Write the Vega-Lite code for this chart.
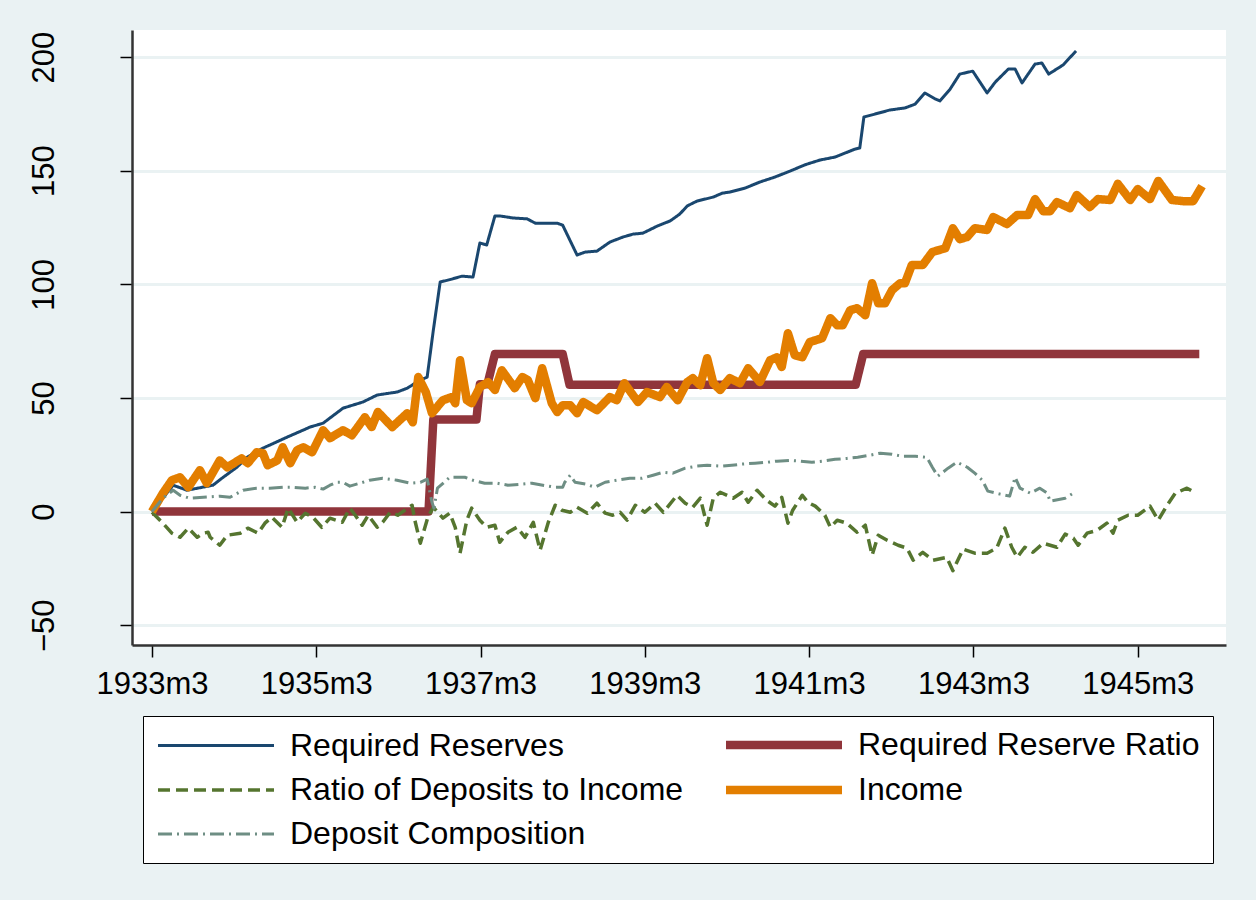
{
  "$schema": "https://vega.github.io/schema/vega-lite/v6.json",
  "width": 1094,
  "height": 615,
  "autosize": {"type": "none"},
  "padding": {"left": 132, "top": 30, "right": 30, "bottom": 255},
  "background": "#eaf2f3",
  "config": {"view": {"fill": "white", "stroke": null}, "font": "Liberation Sans"},
  "data": {"values": [
    {"series": "Required Reserves", "month": 0, "value": 0},
    {"series": "Required Reserves", "month": 3.1, "value": 11.6},
    {"series": "Required Reserves", "month": 5.1, "value": 9.4},
    {"series": "Required Reserves", "month": 8.9, "value": 11.6},
    {"series": "Required Reserves", "month": 10.4, "value": 15.1},
    {"series": "Required Reserves", "month": 12.4, "value": 19.5},
    {"series": "Required Reserves", "month": 13.9, "value": 23.9},
    {"series": "Required Reserves", "month": 16.2, "value": 27.9},
    {"series": "Required Reserves", "month": 19.7, "value": 32.7},
    {"series": "Required Reserves", "month": 23.1, "value": 37.2},
    {"series": "Required Reserves", "month": 25.0, "value": 38.9},
    {"series": "Required Reserves", "month": 27.9, "value": 45.5},
    {"series": "Required Reserves", "month": 30.8, "value": 48.2},
    {"series": "Required Reserves", "month": 32.9, "value": 51.3},
    {"series": "Required Reserves", "month": 35.8, "value": 52.6},
    {"series": "Required Reserves", "month": 37.3, "value": 54.3},
    {"series": "Required Reserves", "month": 38.7, "value": 57.0},
    {"series": "Required Reserves", "month": 40.2, "value": 59.2},
    {"series": "Required Reserves", "month": 41.1, "value": 79.8},
    {"series": "Required Reserves", "month": 42.1, "value": 101.0},
    {"series": "Required Reserves", "month": 43.8, "value": 102.3},
    {"series": "Required Reserves", "month": 45.3, "value": 103.6},
    {"series": "Required Reserves", "month": 46.9, "value": 103.2},
    {"series": "Required Reserves", "month": 47.9, "value": 118.2},
    {"series": "Required Reserves", "month": 48.9, "value": 117.3},
    {"series": "Required Reserves", "month": 50.1, "value": 130.1},
    {"series": "Required Reserves", "month": 50.8, "value": 130.1},
    {"series": "Required Reserves", "month": 52.7, "value": 129.2},
    {"series": "Required Reserves", "month": 54.8, "value": 128.8},
    {"series": "Required Reserves", "month": 56.0, "value": 126.9},
    {"series": "Required Reserves", "month": 57.7, "value": 126.9},
    {"series": "Required Reserves", "month": 59.2, "value": 126.9},
    {"series": "Required Reserves", "month": 60.0, "value": 126.0},
    {"series": "Required Reserves", "month": 62.1, "value": 112.9},
    {"series": "Required Reserves", "month": 63.3, "value": 114.2},
    {"series": "Required Reserves", "month": 65.0, "value": 114.6},
    {"series": "Required Reserves", "month": 66.9, "value": 118.6},
    {"series": "Required Reserves", "month": 68.8, "value": 120.8},
    {"series": "Required Reserves", "month": 70.3, "value": 122.1},
    {"series": "Required Reserves", "month": 71.7, "value": 122.5},
    {"series": "Required Reserves", "month": 73.8, "value": 125.6},
    {"series": "Required Reserves", "month": 75.7, "value": 127.9},
    {"series": "Required Reserves", "month": 77.1, "value": 130.9},
    {"series": "Required Reserves", "month": 78.2, "value": 134.5},
    {"series": "Required Reserves", "month": 79.6, "value": 136.6},
    {"series": "Required Reserves", "month": 82.0, "value": 138.4},
    {"series": "Required Reserves", "month": 83.3, "value": 140.1},
    {"series": "Required Reserves", "month": 84.4, "value": 140.6},
    {"series": "Required Reserves", "month": 86.6, "value": 142.3},
    {"series": "Required Reserves", "month": 88.8, "value": 145.0},
    {"series": "Required Reserves", "month": 91.0, "value": 147.2},
    {"series": "Required Reserves", "month": 93.2, "value": 149.8},
    {"series": "Required Reserves", "month": 95.4, "value": 152.6},
    {"series": "Required Reserves", "month": 97.6, "value": 154.7},
    {"series": "Required Reserves", "month": 99.8, "value": 156.0},
    {"series": "Required Reserves", "month": 102.7, "value": 159.5},
    {"series": "Required Reserves", "month": 103.4, "value": 160.0},
    {"series": "Required Reserves", "month": 104.0, "value": 173.6},
    {"series": "Required Reserves", "month": 105.6, "value": 174.9},
    {"series": "Required Reserves", "month": 107.8, "value": 176.7},
    {"series": "Required Reserves", "month": 110.0, "value": 177.6},
    {"series": "Required Reserves", "month": 111.5, "value": 179.3},
    {"series": "Required Reserves", "month": 112.9, "value": 184.2},
    {"series": "Required Reserves", "month": 114.4, "value": 181.6},
    {"series": "Required Reserves", "month": 115.1, "value": 180.7},
    {"series": "Required Reserves", "month": 116.6, "value": 185.9},
    {"series": "Required Reserves", "month": 118.0, "value": 192.5},
    {"series": "Required Reserves", "month": 119.9, "value": 193.8},
    {"series": "Required Reserves", "month": 122.0, "value": 184.2},
    {"series": "Required Reserves", "month": 123.2, "value": 189.0},
    {"series": "Required Reserves", "month": 125.1, "value": 194.7},
    {"series": "Required Reserves", "month": 126.1, "value": 194.7},
    {"series": "Required Reserves", "month": 127.1, "value": 188.6},
    {"series": "Required Reserves", "month": 129.0, "value": 196.9},
    {"series": "Required Reserves", "month": 130.0, "value": 197.4},
    {"series": "Required Reserves", "month": 131.0, "value": 192.5},
    {"series": "Required Reserves", "month": 133.1, "value": 196.5},
    {"series": "Required Reserves", "month": 135.0, "value": 202.7},

    {"series": "Required Reserve Ratio", "month": 0, "value": 0},
    {"series": "Required Reserve Ratio", "month": 40.4, "value": 0},
    {"series": "Required Reserve Ratio", "month": 41.1, "value": 40.5},
    {"series": "Required Reserve Ratio", "month": 47.4, "value": 40.5},
    {"series": "Required Reserve Ratio", "month": 47.9, "value": 56},
    {"series": "Required Reserve Ratio", "month": 49.0, "value": 56},
    {"series": "Required Reserve Ratio", "month": 50.1, "value": 69.3},
    {"series": "Required Reserve Ratio", "month": 60.0, "value": 69.3},
    {"series": "Required Reserve Ratio", "month": 61.0, "value": 55.8},
    {"series": "Required Reserve Ratio", "month": 102.8, "value": 55.8},
    {"series": "Required Reserve Ratio", "month": 103.9, "value": 69.3},
    {"series": "Required Reserve Ratio", "month": 153.0, "value": 69.3},

    {"series": "Ratio of Deposits to Income", "month": 0, "value": -0.3},
    {"series": "Ratio of Deposits to Income", "month": 1.6, "value": -5.1},
    {"series": "Ratio of Deposits to Income", "month": 2.9, "value": -9.5},
    {"series": "Ratio of Deposits to Income", "month": 4.1, "value": -11.3},
    {"series": "Ratio of Deposits to Income", "month": 5.3, "value": -7.3},
    {"series": "Ratio of Deposits to Income", "month": 6.6, "value": -11.3},
    {"series": "Ratio of Deposits to Income", "month": 7.5, "value": -9.5},
    {"series": "Ratio of Deposits to Income", "month": 8.2, "value": -9.1},
    {"series": "Ratio of Deposits to Income", "month": 8.5, "value": -11.3},
    {"series": "Ratio of Deposits to Income", "month": 9.9, "value": -14.8},
    {"series": "Ratio of Deposits to Income", "month": 11.0, "value": -10.4},
    {"series": "Ratio of Deposits to Income", "month": 12.9, "value": -9.5},
    {"series": "Ratio of Deposits to Income", "month": 14.0, "value": -7.3},
    {"series": "Ratio of Deposits to Income", "month": 15.5, "value": -9.5},
    {"series": "Ratio of Deposits to Income", "month": 16.5, "value": -5.1},
    {"series": "Ratio of Deposits to Income", "month": 17.5, "value": -2.5},
    {"series": "Ratio of Deposits to Income", "month": 19.0, "value": -6.9},
    {"series": "Ratio of Deposits to Income", "month": 19.9, "value": 1.5},
    {"series": "Ratio of Deposits to Income", "month": 21.2, "value": -4.7},
    {"series": "Ratio of Deposits to Income", "month": 22.4, "value": -0.7},
    {"series": "Ratio of Deposits to Income", "month": 23.5, "value": -2.5},
    {"series": "Ratio of Deposits to Income", "month": 24.8, "value": -6.9},
    {"series": "Ratio of Deposits to Income", "month": 26.0, "value": -2.9},
    {"series": "Ratio of Deposits to Income", "month": 27.8, "value": -4.7},
    {"series": "Ratio of Deposits to Income", "month": 28.9, "value": 1.5},
    {"series": "Ratio of Deposits to Income", "month": 29.7, "value": -1.6},
    {"series": "Ratio of Deposits to Income", "month": 30.7, "value": -6.0},
    {"series": "Ratio of Deposits to Income", "month": 31.6, "value": -1.6},
    {"series": "Ratio of Deposits to Income", "month": 32.9, "value": -6.9},
    {"series": "Ratio of Deposits to Income", "month": 33.7, "value": -4.7},
    {"series": "Ratio of Deposits to Income", "month": 34.8, "value": -0.3},
    {"series": "Ratio of Deposits to Income", "month": 35.9, "value": -1.6},
    {"series": "Ratio of Deposits to Income", "month": 38.0, "value": 2.8},
    {"series": "Ratio of Deposits to Income", "month": 38.4, "value": -3.8},
    {"series": "Ratio of Deposits to Income", "month": 39.2, "value": -13.9},
    {"series": "Ratio of Deposits to Income", "month": 40.3, "value": -2.5},
    {"series": "Ratio of Deposits to Income", "month": 41.1, "value": 1.9},
    {"series": "Ratio of Deposits to Income", "month": 42.5, "value": -2.9},
    {"series": "Ratio of Deposits to Income", "month": 43.5, "value": -0.7},
    {"series": "Ratio of Deposits to Income", "month": 44.3, "value": -6.9},
    {"series": "Ratio of Deposits to Income", "month": 45.0, "value": -18.3},
    {"series": "Ratio of Deposits to Income", "month": 46.0, "value": -3.8},
    {"series": "Ratio of Deposits to Income", "month": 46.7, "value": 1.5},
    {"series": "Ratio of Deposits to Income", "month": 47.9, "value": -3.8},
    {"series": "Ratio of Deposits to Income", "month": 48.9, "value": -6.9},
    {"series": "Ratio of Deposits to Income", "month": 50.1, "value": -6.0},
    {"series": "Ratio of Deposits to Income", "month": 50.8, "value": -13.5},
    {"series": "Ratio of Deposits to Income", "month": 52.0, "value": -9.1},
    {"series": "Ratio of Deposits to Income", "month": 53.3, "value": -6.9},
    {"series": "Ratio of Deposits to Income", "month": 54.5, "value": -11.3},
    {"series": "Ratio of Deposits to Income", "month": 55.7, "value": -4.7},
    {"series": "Ratio of Deposits to Income", "month": 56.7, "value": -17.0},
    {"series": "Ratio of Deposits to Income", "month": 57.9, "value": -4.7},
    {"series": "Ratio of Deposits to Income", "month": 58.9, "value": 2.8},
    {"series": "Ratio of Deposits to Income", "month": 59.9, "value": 0.6},
    {"series": "Ratio of Deposits to Income", "month": 61.1, "value": -0.3},
    {"series": "Ratio of Deposits to Income", "month": 62.1, "value": 1.9},
    {"series": "Ratio of Deposits to Income", "month": 63.6, "value": -0.7},
    {"series": "Ratio of Deposits to Income", "month": 65.0, "value": 3.7},
    {"series": "Ratio of Deposits to Income", "month": 66.2, "value": -0.7},
    {"series": "Ratio of Deposits to Income", "month": 67.3, "value": -1.6},
    {"series": "Ratio of Deposits to Income", "month": 68.4, "value": -0.3},
    {"series": "Ratio of Deposits to Income", "month": 69.4, "value": -3.8},
    {"series": "Ratio of Deposits to Income", "month": 70.6, "value": 2.8},
    {"series": "Ratio of Deposits to Income", "month": 72.0, "value": -0.3},
    {"series": "Ratio of Deposits to Income", "month": 73.5, "value": 3.7},
    {"series": "Ratio of Deposits to Income", "month": 74.7, "value": -0.3},
    {"series": "Ratio of Deposits to Income", "month": 76.7, "value": 7.2},
    {"series": "Ratio of Deposits to Income", "month": 77.9, "value": 3.7},
    {"series": "Ratio of Deposits to Income", "month": 79.0, "value": 1.9},
    {"series": "Ratio of Deposits to Income", "month": 80.1, "value": 5.9},
    {"series": "Ratio of Deposits to Income", "month": 80.8, "value": -2.5},
    {"series": "Ratio of Deposits to Income", "month": 81.1, "value": -6.0},
    {"series": "Ratio of Deposits to Income", "month": 82.0, "value": 5.9},
    {"series": "Ratio of Deposits to Income", "month": 83.0, "value": 8.5},
    {"series": "Ratio of Deposits to Income", "month": 84.9, "value": 5.9},
    {"series": "Ratio of Deposits to Income", "month": 86.2, "value": 8.5},
    {"series": "Ratio of Deposits to Income", "month": 87.1, "value": 4.1},
    {"series": "Ratio of Deposits to Income", "month": 88.4, "value": 9.4},
    {"series": "Ratio of Deposits to Income", "month": 89.8, "value": 5.0},
    {"series": "Ratio of Deposits to Income", "month": 91.0, "value": 2.4},
    {"series": "Ratio of Deposits to Income", "month": 92.0, "value": 6.3},
    {"series": "Ratio of Deposits to Income", "month": 92.9, "value": -5.1},
    {"series": "Ratio of Deposits to Income", "month": 93.6, "value": 0.6},
    {"series": "Ratio of Deposits to Income", "month": 95.0, "value": 7.2},
    {"series": "Ratio of Deposits to Income", "month": 95.8, "value": 4.1},
    {"series": "Ratio of Deposits to Income", "month": 96.9, "value": 2.4},
    {"series": "Ratio of Deposits to Income", "month": 98.3, "value": -1.6},
    {"series": "Ratio of Deposits to Income", "month": 99.1, "value": -6.9},
    {"series": "Ratio of Deposits to Income", "month": 100.1, "value": -3.8},
    {"series": "Ratio of Deposits to Income", "month": 101.5, "value": -5.1},
    {"series": "Ratio of Deposits to Income", "month": 103.0, "value": -9.1},
    {"series": "Ratio of Deposits to Income", "month": 104.2, "value": -6.0},
    {"series": "Ratio of Deposits to Income", "month": 105.2, "value": -19.2},
    {"series": "Ratio of Deposits to Income", "month": 106.1, "value": -10.4},
    {"series": "Ratio of Deposits to Income", "month": 107.4, "value": -12.6},
    {"series": "Ratio of Deposits to Income", "month": 109.0, "value": -14.8},
    {"series": "Ratio of Deposits to Income", "month": 110.3, "value": -16.1},
    {"series": "Ratio of Deposits to Income", "month": 111.2, "value": -21.4},
    {"series": "Ratio of Deposits to Income", "month": 112.6, "value": -17.9},
    {"series": "Ratio of Deposits to Income", "month": 114.1, "value": -21.4},
    {"series": "Ratio of Deposits to Income", "month": 116.1, "value": -20.1},
    {"series": "Ratio of Deposits to Income", "month": 117.0, "value": -26.0},
    {"series": "Ratio of Deposits to Income", "month": 118.5, "value": -16.5},
    {"series": "Ratio of Deposits to Income", "month": 120.2, "value": -18.3},
    {"series": "Ratio of Deposits to Income", "month": 122.0, "value": -18.3},
    {"series": "Ratio of Deposits to Income", "month": 123.4, "value": -16.1},
    {"series": "Ratio of Deposits to Income", "month": 124.6, "value": -7.3},
    {"series": "Ratio of Deposits to Income", "month": 125.6, "value": -15.7},
    {"series": "Ratio of Deposits to Income", "month": 126.4, "value": -20.1},
    {"series": "Ratio of Deposits to Income", "month": 127.5, "value": -15.7},
    {"series": "Ratio of Deposits to Income", "month": 128.7, "value": -17.9},
    {"series": "Ratio of Deposits to Income", "month": 130.2, "value": -13.9},
    {"series": "Ratio of Deposits to Income", "month": 132.2, "value": -15.7},
    {"series": "Ratio of Deposits to Income", "month": 133.4, "value": -9.9},
    {"series": "Ratio of Deposits to Income", "month": 134.6, "value": -11.7},
    {"series": "Ratio of Deposits to Income", "month": 135.3, "value": -14.8},
    {"series": "Ratio of Deposits to Income", "month": 136.6, "value": -9.5},
    {"series": "Ratio of Deposits to Income", "month": 138.1, "value": -8.2},
    {"series": "Ratio of Deposits to Income", "month": 139.5, "value": -5.1},
    {"series": "Ratio of Deposits to Income", "month": 140.4, "value": -9.5},
    {"series": "Ratio of Deposits to Income", "month": 141.1, "value": -3.8},
    {"series": "Ratio of Deposits to Income", "month": 142.6, "value": -1.6},
    {"series": "Ratio of Deposits to Income", "month": 144.0, "value": -1.6},
    {"series": "Ratio of Deposits to Income", "month": 145.8, "value": 2.4},
    {"series": "Ratio of Deposits to Income", "month": 147.0, "value": -3.8},
    {"series": "Ratio of Deposits to Income", "month": 148.3, "value": 2.8},
    {"series": "Ratio of Deposits to Income", "month": 149.5, "value": 8.1},
    {"series": "Ratio of Deposits to Income", "month": 151.2, "value": 10.3},
    {"series": "Ratio of Deposits to Income", "month": 152.5, "value": 8.1},

    {"series": "Income", "month": 0, "value": 0},
    {"series": "Income", "month": 1.6, "value": 8.1},
    {"series": "Income", "month": 2.9, "value": 13.8},
    {"series": "Income", "month": 4.1, "value": 15.1},
    {"series": "Income", "month": 5.3, "value": 10.7},
    {"series": "Income", "month": 7.0, "value": 18.2},
    {"series": "Income", "month": 8.0, "value": 12.5},
    {"series": "Income", "month": 9.9, "value": 22.5},
    {"series": "Income", "month": 11.0, "value": 19.5},
    {"series": "Income", "month": 13.1, "value": 23.4},
    {"series": "Income", "month": 14.0, "value": 21.3},
    {"series": "Income", "month": 15.3, "value": 26.1},
    {"series": "Income", "month": 16.2, "value": 25.7},
    {"series": "Income", "month": 16.9, "value": 20.4},
    {"series": "Income", "month": 18.3, "value": 22.5},
    {"series": "Income", "month": 19.1, "value": 28.3},
    {"series": "Income", "month": 20.2, "value": 21.3},
    {"series": "Income", "month": 21.2, "value": 27.0},
    {"series": "Income", "month": 22.1, "value": 28.3},
    {"series": "Income", "month": 23.4, "value": 26.1},
    {"series": "Income", "month": 25.0, "value": 35.8},
    {"series": "Income", "month": 26.0, "value": 32.3},
    {"series": "Income", "month": 27.9, "value": 35.8},
    {"series": "Income", "month": 29.2, "value": 33.6},
    {"series": "Income", "month": 31.1, "value": 41.5},
    {"series": "Income", "month": 32.1, "value": 37.2},
    {"series": "Income", "month": 33.0, "value": 43.8},
    {"series": "Income", "month": 35.1, "value": 37.2},
    {"series": "Income", "month": 37.3, "value": 43.3},
    {"series": "Income", "month": 38.1, "value": 39.3},
    {"series": "Income", "month": 38.9, "value": 59.2},
    {"series": "Income", "month": 40.0, "value": 52.6},
    {"series": "Income", "month": 40.9, "value": 43.3},
    {"series": "Income", "month": 42.5, "value": 49.0},
    {"series": "Income", "month": 43.8, "value": 50.4},
    {"series": "Income", "month": 44.3, "value": 47.7},
    {"series": "Income", "month": 45.0, "value": 66.6},
    {"series": "Income", "month": 46.0, "value": 49.0},
    {"series": "Income", "month": 46.7, "value": 47.7},
    {"series": "Income", "month": 47.9, "value": 54.8},
    {"series": "Income", "month": 49.1, "value": 57.0},
    {"series": "Income", "month": 50.1, "value": 53.5},
    {"series": "Income", "month": 51.1, "value": 62.2},
    {"series": "Income", "month": 53.0, "value": 54.3},
    {"series": "Income", "month": 54.1, "value": 59.2},
    {"series": "Income", "month": 54.9, "value": 57.9},
    {"series": "Income", "month": 56.0, "value": 49.9},
    {"series": "Income", "month": 57.0, "value": 63.1},
    {"series": "Income", "month": 58.4, "value": 47.7},
    {"series": "Income", "month": 59.2, "value": 43.8},
    {"series": "Income", "month": 60.0, "value": 46.8},
    {"series": "Income", "month": 61.1, "value": 46.8},
    {"series": "Income", "month": 62.1, "value": 43.3},
    {"series": "Income", "month": 63.0, "value": 48.2},
    {"series": "Income", "month": 65.0, "value": 44.6},
    {"series": "Income", "month": 66.9, "value": 50.4},
    {"series": "Income", "month": 67.9, "value": 49.0},
    {"series": "Income", "month": 69.0, "value": 56.5},
    {"series": "Income", "month": 71.0, "value": 48.2},
    {"series": "Income", "month": 72.3, "value": 52.6},
    {"series": "Income", "month": 74.2, "value": 50.4},
    {"series": "Income", "month": 75.2, "value": 54.8},
    {"series": "Income", "month": 76.8, "value": 49.0},
    {"series": "Income", "month": 78.2, "value": 57.0},
    {"series": "Income", "month": 79.0, "value": 58.7},
    {"series": "Income", "month": 80.1, "value": 55.6},
    {"series": "Income", "month": 81.1, "value": 67.5},
    {"series": "Income", "month": 82.0, "value": 56.5},
    {"series": "Income", "month": 83.0, "value": 53.5},
    {"series": "Income", "month": 84.4, "value": 58.7},
    {"series": "Income", "month": 85.9, "value": 56.5},
    {"series": "Income", "month": 87.1, "value": 63.1},
    {"series": "Income", "month": 88.8, "value": 57.0},
    {"series": "Income", "month": 90.3, "value": 66.6},
    {"series": "Income", "month": 91.3, "value": 67.9},
    {"series": "Income", "month": 92.0, "value": 63.6},
    {"series": "Income", "month": 92.9, "value": 78.5},
    {"series": "Income", "month": 93.9, "value": 68.8},
    {"series": "Income", "month": 95.0, "value": 67.9},
    {"series": "Income", "month": 96.1, "value": 74.6},
    {"series": "Income", "month": 97.9, "value": 76.3},
    {"series": "Income", "month": 99.1, "value": 85.1},
    {"series": "Income", "month": 100.1, "value": 82.0},
    {"series": "Income", "month": 100.9, "value": 82.0},
    {"series": "Income", "month": 102.0, "value": 88.6},
    {"series": "Income", "month": 103.0, "value": 89.5},
    {"series": "Income", "month": 104.2, "value": 86.4},
    {"series": "Income", "month": 105.2, "value": 100.5},
    {"series": "Income", "month": 106.1, "value": 91.7},
    {"series": "Income", "month": 107.1, "value": 91.7},
    {"series": "Income", "month": 108.1, "value": 97.4},
    {"series": "Income", "month": 109.3, "value": 100.5},
    {"series": "Income", "month": 110.0, "value": 100.5},
    {"series": "Income", "month": 111.0, "value": 108.5},
    {"series": "Income", "month": 112.6, "value": 108.5},
    {"series": "Income", "month": 114.0, "value": 114.2},
    {"series": "Income", "month": 115.9, "value": 115.9},
    {"series": "Income", "month": 117.0, "value": 124.7},
    {"series": "Income", "month": 118.0, "value": 119.9},
    {"series": "Income", "month": 119.1, "value": 120.8},
    {"series": "Income", "month": 120.2, "value": 124.7},
    {"series": "Income", "month": 122.0, "value": 123.9},
    {"series": "Income", "month": 122.9, "value": 129.6},
    {"series": "Income", "month": 124.9, "value": 126.5},
    {"series": "Income", "month": 126.4, "value": 130.5},
    {"series": "Income", "month": 128.0, "value": 130.5},
    {"series": "Income", "month": 129.0, "value": 137.5},
    {"series": "Income", "month": 130.2, "value": 132.2},
    {"series": "Income", "month": 131.2, "value": 132.2},
    {"series": "Income", "month": 132.2, "value": 136.2},
    {"series": "Income", "month": 134.1, "value": 133.5},
    {"series": "Income", "month": 135.1, "value": 139.3},
    {"series": "Income", "month": 137.0, "value": 134.0},
    {"series": "Income", "month": 138.2, "value": 137.5},
    {"series": "Income", "month": 140.0, "value": 137.1},
    {"series": "Income", "month": 141.1, "value": 144.2},
    {"series": "Income", "month": 142.9, "value": 137.1},
    {"series": "Income", "month": 144.0, "value": 141.9},
    {"series": "Income", "month": 145.8, "value": 137.5},
    {"series": "Income", "month": 147.0, "value": 145.5},
    {"series": "Income", "month": 149.0, "value": 137.1},
    {"series": "Income", "month": 150.6, "value": 136.6},
    {"series": "Income", "month": 152.1, "value": 136.6},
    {"series": "Income", "month": 153.4, "value": 143.2},

    {"series": "Deposit Composition", "month": 0, "value": 0},
    {"series": "Deposit Composition", "month": 1.6, "value": 5.9},
    {"series": "Deposit Composition", "month": 3.1, "value": 9.4},
    {"series": "Deposit Composition", "month": 4.1, "value": 7.2},
    {"series": "Deposit Composition", "month": 5.5, "value": 5.9},
    {"series": "Deposit Composition", "month": 7.5, "value": 6.3},
    {"series": "Deposit Composition", "month": 9.9, "value": 6.8},
    {"series": "Deposit Composition", "month": 11.4, "value": 6.3},
    {"series": "Deposit Composition", "month": 13.3, "value": 9.4},
    {"series": "Deposit Composition", "month": 15.3, "value": 10.3},
    {"series": "Deposit Composition", "month": 17.2, "value": 10.3},
    {"series": "Deposit Composition", "month": 19.1, "value": 10.7},
    {"series": "Deposit Composition", "month": 20.6, "value": 10.7},
    {"series": "Deposit Composition", "month": 22.4, "value": 10.3},
    {"series": "Deposit Composition", "month": 23.8, "value": 10.7},
    {"series": "Deposit Composition", "month": 25.0, "value": 9.9},
    {"series": "Deposit Composition", "month": 26.0, "value": 11.6},
    {"series": "Deposit Composition", "month": 27.0, "value": 12.9},
    {"series": "Deposit Composition", "month": 27.9, "value": 12.9},
    {"series": "Deposit Composition", "month": 28.9, "value": 11.2},
    {"series": "Deposit Composition", "month": 30.4, "value": 12.5},
    {"series": "Deposit Composition", "month": 31.8, "value": 13.8},
    {"series": "Deposit Composition", "month": 33.7, "value": 14.7},
    {"series": "Deposit Composition", "month": 35.8, "value": 13.8},
    {"series": "Deposit Composition", "month": 37.7, "value": 12.5},
    {"series": "Deposit Composition", "month": 39.2, "value": 12.9},
    {"series": "Deposit Composition", "month": 40.2, "value": 14.3},
    {"series": "Deposit Composition", "month": 40.9, "value": 4.1},
    {"series": "Deposit Composition", "month": 41.2, "value": 1.5},
    {"series": "Deposit Composition", "month": 41.7, "value": 10.3},
    {"series": "Deposit Composition", "month": 43.5, "value": 15.1},
    {"series": "Deposit Composition", "month": 45.7, "value": 15.1},
    {"series": "Deposit Composition", "month": 46.9, "value": 13.8},
    {"series": "Deposit Composition", "month": 48.6, "value": 12.5},
    {"series": "Deposit Composition", "month": 50.4, "value": 12.5},
    {"series": "Deposit Composition", "month": 52.0, "value": 11.6},
    {"series": "Deposit Composition", "month": 54.1, "value": 12.1},
    {"series": "Deposit Composition", "month": 55.5, "value": 12.5},
    {"series": "Deposit Composition", "month": 57.1, "value": 11.6},
    {"series": "Deposit Composition", "month": 58.9, "value": 10.7},
    {"series": "Deposit Composition", "month": 60.0, "value": 10.7},
    {"series": "Deposit Composition", "month": 60.3, "value": 12.9},
    {"series": "Deposit Composition", "month": 61.1, "value": 16.0},
    {"series": "Deposit Composition", "month": 61.8, "value": 12.9},
    {"series": "Deposit Composition", "month": 63.3, "value": 12.1},
    {"series": "Deposit Composition", "month": 64.7, "value": 10.7},
    {"series": "Deposit Composition", "month": 66.2, "value": 12.9},
    {"series": "Deposit Composition", "month": 67.9, "value": 13.8},
    {"series": "Deposit Composition", "month": 69.8, "value": 14.7},
    {"series": "Deposit Composition", "month": 71.6, "value": 14.7},
    {"series": "Deposit Composition", "month": 73.2, "value": 16.0},
    {"series": "Deposit Composition", "month": 74.7, "value": 17.3},
    {"series": "Deposit Composition", "month": 76.1, "value": 16.9},
    {"series": "Deposit Composition", "month": 77.9, "value": 19.1},
    {"series": "Deposit Composition", "month": 79.6, "value": 20.0},
    {"series": "Deposit Composition", "month": 81.1, "value": 20.4},
    {"series": "Deposit Composition", "month": 83.3, "value": 20.0},
    {"series": "Deposit Composition", "month": 84.7, "value": 20.4},
    {"series": "Deposit Composition", "month": 86.2, "value": 20.9},
    {"series": "Deposit Composition", "month": 88.1, "value": 21.3},
    {"series": "Deposit Composition", "month": 89.8, "value": 21.7},
    {"series": "Deposit Composition", "month": 91.3, "value": 22.2},
    {"series": "Deposit Composition", "month": 93.2, "value": 22.5},
    {"series": "Deposit Composition", "month": 94.7, "value": 22.2},
    {"series": "Deposit Composition", "month": 96.4, "value": 21.7},
    {"series": "Deposit Composition", "month": 98.0, "value": 22.2},
    {"series": "Deposit Composition", "month": 99.8, "value": 23.0},
    {"series": "Deposit Composition", "month": 101.5, "value": 23.4},
    {"series": "Deposit Composition", "month": 103.1, "value": 23.9},
    {"series": "Deposit Composition", "month": 104.9, "value": 24.8},
    {"series": "Deposit Composition", "month": 106.4, "value": 25.7},
    {"series": "Deposit Composition", "month": 108.1, "value": 25.2},
    {"series": "Deposit Composition", "month": 109.7, "value": 24.3},
    {"series": "Deposit Composition", "month": 111.5, "value": 24.3},
    {"series": "Deposit Composition", "month": 113.2, "value": 23.9},
    {"series": "Deposit Composition", "month": 114.0, "value": 19.5},
    {"series": "Deposit Composition", "month": 114.8, "value": 15.6},
    {"series": "Deposit Composition", "month": 116.3, "value": 19.1},
    {"series": "Deposit Composition", "month": 117.6, "value": 21.7},
    {"series": "Deposit Composition", "month": 119.1, "value": 19.5},
    {"series": "Deposit Composition", "month": 120.2, "value": 16.9},
    {"series": "Deposit Composition", "month": 121.3, "value": 13.8},
    {"series": "Deposit Composition", "month": 122.1, "value": 9.0},
    {"series": "Deposit Composition", "month": 123.9, "value": 7.7},
    {"series": "Deposit Composition", "month": 125.3, "value": 6.8},
    {"series": "Deposit Composition", "month": 126.1, "value": 15.1},
    {"series": "Deposit Composition", "month": 126.8, "value": 10.3},
    {"series": "Deposit Composition", "month": 128.3, "value": 8.1},
    {"series": "Deposit Composition", "month": 129.7, "value": 10.3},
    {"series": "Deposit Composition", "month": 130.8, "value": 8.1},
    {"series": "Deposit Composition", "month": 131.2, "value": 4.6},
    {"series": "Deposit Composition", "month": 133.4, "value": 5.9},
    {"series": "Deposit Composition", "month": 134.6, "value": 8.1}
  ]},
  "mark": {"type": "line", "strokeJoin": "round", "clip": true},
  "encoding": {
    "x": {
      "field": "month", "type": "quantitative",
      "scale": {"domain": [-2.92, 156.9], "nice": false, "zero": false},
      "axis": {
        "title": null, "grid": false,
        "values": [0, 24, 48, 72, 96, 120, 144],
        "labelExpr": "floor(1933 + (datum.value + 2) / 12) + 'm' + (((datum.value + 2) % 12) + 1)",
        "domainColor": "#333333", "domainWidth": 2.5,
        "tickColor": "#000000", "tickWidth": 1.5, "tickSize": 12,
        "labelFontSize": 31, "labelFont": "Liberation Sans", "labelColor": "#000000",
        "labelPadding": 12
      }
    },
    "y": {
      "field": "value", "type": "quantitative",
      "scale": {"domain": [-58.7, 211.9], "nice": false, "zero": false},
      "axis": {
        "title": null, "grid": true, "gridColor": "#eaf2f3", "gridWidth": 3,
        "values": [-50, 0, 50, 100, 150, 200],
        "domainColor": "#333333", "domainWidth": 2.5,
        "tickColor": "#000000", "tickWidth": 1.5, "tickSize": 12,
        "labelAngle": -90, "labelAlign": "center", "labelBaseline": "bottom",
        "labelFontSize": 31, "labelFont": "Liberation Sans", "labelColor": "#000000",
        "labelPadding": 60
      }
    },
    "color": {
      "field": "series", "type": "nominal",
      "scale": {
        "domain": ["Required Reserves", "Required Reserve Ratio", "Ratio of Deposits to Income", "Income", "Deposit Composition"],
        "range": ["#1a476f", "#90353b", "#55752f", "#e37e00", "#6e8e84"]
      },
      "legend": {
        "orient": "none", "legendX": 11, "legendY": 686,
        "columns": 2, "direction": "horizontal", "title": null,
        "symbolType": "M-1.4,0H10.2", "symbolSize": 400,
        "labelFontSize": 32, "labelFont": "Liberation Sans", "labelColor": "#000000", "labelLimit": 700,
        "strokeColor": "#000000", "fillColor": "#ffffff",
        "padding": 13, "rowPadding": 11, "columnPadding": 25, "labelOffset": 102
      }
    },
    "strokeDash": {
      "field": "series", "type": "nominal",
      "scale": {
        "domain": ["Required Reserves", "Required Reserve Ratio", "Ratio of Deposits to Income", "Income", "Deposit Composition"],
        "range": [[1, 0], [1, 0], [12, 6], [1, 0], [14, 5, 2, 5]]
      }
    },
    "strokeWidth": {
      "field": "series", "type": "nominal",
      "scale": {
        "type": "ordinal",
        "domain": ["Required Reserves", "Required Reserve Ratio", "Ratio of Deposits to Income", "Income", "Deposit Composition"],
        "range": [3, 8.5, 3.5, 8.5, 3]
      }
    }
  }
}
